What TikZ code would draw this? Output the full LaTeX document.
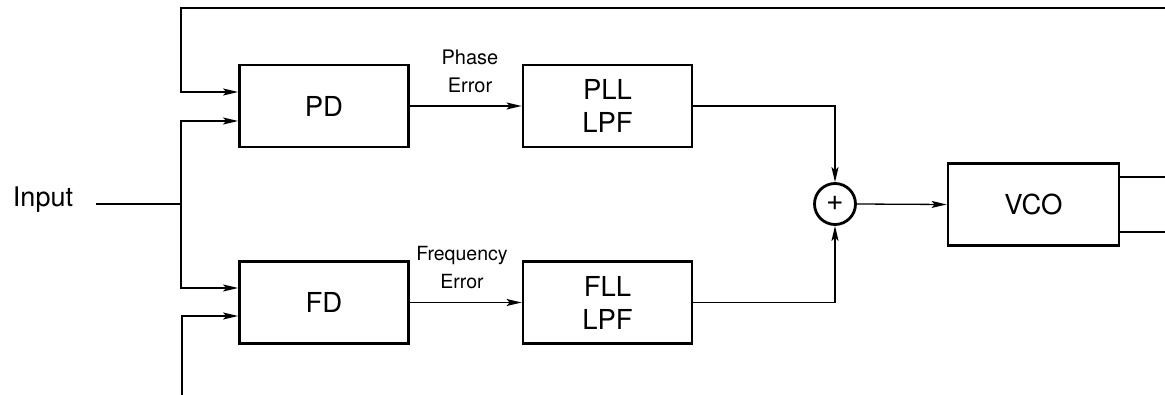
\documentclass[tikz,border=0pt]{standalone}
\usepackage{fontspec}
\setmainfont{TeX Gyre Heros}
\usetikzlibrary{arrows.meta,calc}
\begin{document}
\begin{tikzpicture}[x=1pt,y=-1pt,
  blk/.style={draw,line width=2.8pt,minimum width=169pt,minimum height=82pt,
    inner sep=0pt,font=\fontsize{27.5}{33}\selectfont,align=center},
  sumnode/.style={draw,circle,line width=2.8pt,minimum size=41pt,inner sep=0pt,
    font=\fontsize{30}{30}\selectfont},
  lbl/.style={font=\fontsize{20}{28}\selectfont,align=center},
  wire/.style={line width=1.3pt},
  arr/.style={wire,-{Stealth[length=15pt,width=7pt,inset=3pt]}}]
\useasboundingbox (0,0) rectangle (1165,395);

% blocks
\node[blk] (PD)  at (324,106)    {PD};
\node[blk] (FD)  at (324,302.5)  {FD};
\node[blk] (PLL) at (607.5,106)  {PLL\\LPF};
\node[blk] (FLL) at (607.5,302.5){FLL\\LPF};
\node[sumnode] (sum) at (835,204) {\raisebox{1pt}{+}};
\node[blk,minimum width=171pt] (VCO) at (1033.5,204.5) {VCO};

% input
\node[font=\fontsize{27}{27}\selectfont] (input) at (43,200) {Input};
\coordinate (inL) at (96,204);
\coordinate (j) at (181,204);

% signal labels
\node[lbl] (phlbl) at (470,71) {Phase\\Error};
\node[lbl,font=\fontsize{19.5}{28}\selectfont] (frlbl) at (462,268) {Frequency\\Error};

% feedback ends leaving the picture
\coordinate (fbTop) at (1165,8);
\coordinate (fbCorner) at (181,8);
\coordinate (fbBot) at (182,395);
\coordinate (outA) at (1165,177);
\coordinate (outB) at (1165,232);

% input distribution
\draw[wire] (inL) -- (j);
\draw[arr] (j) |- ([yshift=-15pt]PD.west);
\draw[arr] (j) |- ([yshift=14.5pt]FD.west);

% feedback paths
\draw[arr] (fbTop) -- (fbCorner) |- ([yshift=14pt]PD.west);
\draw[arr] (fbBot) |- ([yshift=-13.5pt]FD.west);

% forward path
\draw[arr] (PD.east) -- (PLL.west);
\draw[arr] (FD.east) -- (FLL.west);
\draw[arr] (PLL.east) -| (sum.north);
\draw[arr] (FLL.east) -| (sum.south);
\draw[arr] (sum.east) -- (VCO.west);

% VCO outputs
\draw[wire] ([yshift=27.5pt]VCO.east) -- (outA);
\draw[wire] ([yshift=-27.5pt]VCO.east) -- (outB);
\end{tikzpicture}
\end{document}
